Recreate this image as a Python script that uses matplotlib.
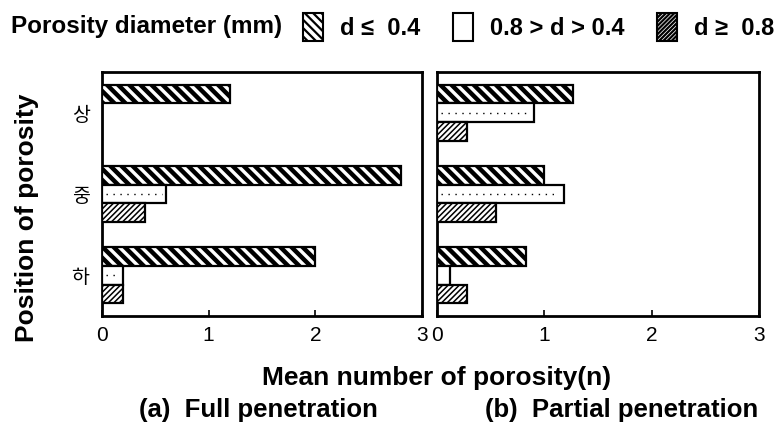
import matplotlib
matplotlib.use('Agg')
import matplotlib.pyplot as plt
from matplotlib.patches import Patch
import numpy as np

# Data
POSITIONS = ['상', '중', '하']
SIZE_LABELS = ['d ≤  0.4', '0.8 > d > 0.4', 'd ≥  0.8']
FULL_SMALL = [1.2, 2.8, 2.0]
FULL_MEDIUM = [0.0, 0.6, 0.2]
FULL_LARGE = [0.0, 0.4, 0.2]
PART_SMALL = [1.27, 1.0, 0.83]
PART_MEDIUM = [0.9, 1.18, 0.12]
PART_LARGE = [0.28, 0.55, 0.28]
X_TICKS = [0, 1, 2, 3]

plt.rcParams['font.family'] = ['Liberation Sans', 'DejaVu Sans']

BAR_H = 0.23
EDGE_LW = 1.6


def styled_bars(ax, y, values, hatch, hatch_lw):
    plt.rcParams['hatch.linewidth'] = hatch_lw
    bars = ax.barh(y, values, height=BAR_H, facecolor='white', edgecolor='black',
                   linewidth=EDGE_LW, hatch=hatch, zorder=3)
    for b in bars:
        if hasattr(b, 'set_hatch_linewidth'):
            b.set_hatch_linewidth(hatch_lw)
    return bars


def draw_panel(ax, small, medium, large, show_labels):
    y = np.arange(len(POSITIONS))[::-1].astype(float)
    styled_bars(ax, y + BAR_H, small, '\\\\\\', 3.2)
    styled_bars(ax, y, medium, None, 1.0)
    # dotted centre line of the open bars
    for yi, v in zip(y, medium):
        if v > 0.15:
            ax.hlines(yi, 0.04, v - 0.04, colors='black', linewidth=1.0,
                      linestyles=(0, (1, 4)), zorder=4)
    styled_bars(ax, y - BAR_H, large, '//////', 1.1)

    ax.set_xlim(0, 3)
    ax.set_ylim(-0.5, 2.5)
    ax.set_xticks(X_TICKS)
    ax.set_xticklabels([str(t) for t in X_TICKS], fontsize=15)
    ax.tick_params(axis='x', direction='in', length=4, width=1.2, pad=7)
    ax.set_yticks(y)
    if show_labels:
        ax.set_yticklabels(POSITIONS, fontsize=14,
                           family=['Noto Sans CJK KR', 'DejaVu Sans'])
    else:
        ax.set_yticklabels([])
    ax.tick_params(axis='y', length=0, pad=9)
    for s in ax.spines.values():
        s.set_linewidth(2.0)


fig = plt.figure(figsize=(7.76, 4.25), dpi=100, facecolor='white')
ax1 = fig.add_axes([102 / 776, 1 - 316 / 425, 320 / 776, 244 / 425])
ax2 = fig.add_axes([437 / 776, 1 - 316 / 425, 322 / 776, 244 / 425])

draw_panel(ax1, FULL_SMALL, FULL_MEDIUM, FULL_LARGE, True)
draw_panel(ax2, PART_SMALL, PART_MEDIUM, PART_LARGE, False)

# Legend row on top
fig.text(11 / 776, 1 - 27 / 425, 'Porosity diameter (mm)', fontsize=17.5,
         weight='bold', ha='left', va='center')
plt.rcParams['hatch.linewidth'] = 1.6
handles = [
    Patch(facecolor='white', edgecolor='black', hatch='\\\\\\\\', linewidth=1.5),
    Patch(facecolor='white', edgecolor='black', linewidth=1.5),
    Patch(facecolor='white', edgecolor='black', hatch='////////', linewidth=1.5),
]
leg = fig.legend(handles, SIZE_LABELS, loc='center left',
                 bbox_to_anchor=(303 / 776, 1 - 27 / 425), ncol=3, frameon=False,
                 prop={'size': 17, 'weight': 'bold'}, handlelength=0.85,
                 handleheight=1.45, handletextpad=0.7, columnspacing=1.4,
                 borderpad=0, borderaxespad=0)
for h in leg.legend_handles:
    if hasattr(h, 'set_hatch_linewidth'):
        h.set_hatch_linewidth(1.6)

fig.text(27 / 776, 1 - 218 / 425, 'Position of porosity', fontsize=19,
         weight='bold', rotation=90, ha='center', va='center')
fig.text(437 / 776, 1 - 378 / 425, 'Mean number of porosity(n)', fontsize=19,
         weight='bold', ha='center', va='center')
fig.text(258 / 776, 1 - 410 / 425, '(a)  Full penetration', fontsize=18.5,
         weight='bold', ha='center', va='center')
fig.text(622 / 776, 1 - 410 / 425, '(b)  Partial penetration', fontsize=18.5,
         weight='bold', ha='center', va='center')

fig.savefig('out.png', dpi=100, facecolor='white')
